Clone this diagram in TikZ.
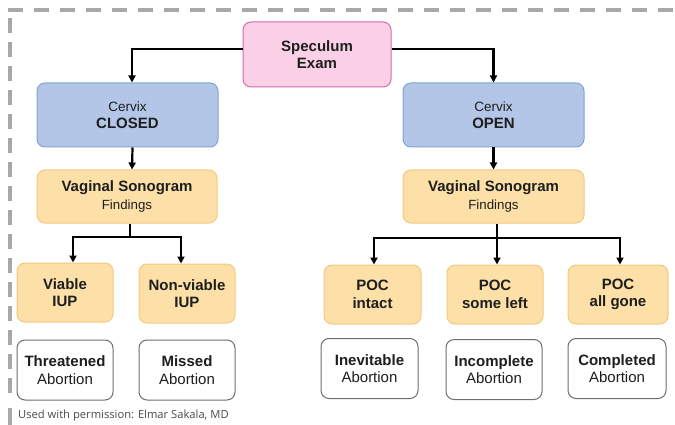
\documentclass[tikz,border=0pt]{standalone}
\usepackage{fontspec}
\setmainfont{Liberation Sans}
\newfontfamily\notefont{Open Sans}
\usetikzlibrary{arrows.meta}
\definecolor{pinkfill}{HTML}{F9D0E6}
\definecolor{pinkline}{HTML}{D66AAC}
\definecolor{bluefill}{HTML}{B4C6E8}
\definecolor{blueline}{HTML}{7EA5D1}
\definecolor{orfill}{HTML}{FCE0A8}
\definecolor{orline}{HTML}{F3C97F}
\definecolor{greyline}{HTML}{6E6E6E}
\definecolor{notegrey}{HTML}{4A4A4A}
\definecolor{dashgrey}{HTML}{A8A8A8}
\definecolor{txt}{HTML}{1E1E1E}
\begin{document}
\begin{tikzpicture}[x=1pt,y=-1pt,
  box/.style={rounded corners=8pt, line width=1pt, align=center, inner sep=0pt,
    text=txt, font=\fontsize{15}{17.5}\selectfont},
  pinkbox/.style={box, draw=pinkline, fill=pinkfill},
  bluebox/.style={box, draw=blueline, fill=bluefill},
  orbox/.style={box, draw=orline, fill=orfill},
  whitebox/.style={box, draw=greyline, fill=white},
  conn/.style={line width=2.2pt, black},
  arr/.style={conn, -{Triangle[length=7pt,width=7pt]}}
]
\useasboundingbox (0,0) rectangle (675,425);
% dashed frame
\draw[dashgrey, line width=3.2pt, dash pattern=on 15pt off 11pt] (8,10) -- (675,10);
\draw[dashgrey, line width=3.2pt, dash pattern=on 15pt off 9pt] (10,18) -- (10,400);
\draw[dashgrey, line width=3.2pt] (10,408) -- (10,425);

% nodes
\node[pinkbox, minimum width=148pt, minimum height=65pt] (spec) at (317,54.5) {\textbf{Speculum}\\\textbf{Exam}};
\node[bluebox, minimum width=181pt, minimum height=64pt] (closed) at (127.5,115) {{\fontsize{13.5}{16}\selectfont Cervix}\\\textbf{CLOSED}};
\node[bluebox, minimum width=181pt, minimum height=64pt] (open) at (493.5,115) {{\fontsize{13.5}{16}\selectfont Cervix}\\\textbf{OPEN}};
\node[orbox, minimum width=180pt, minimum height=53pt] (vagL) at (127,196.5) {\textbf{Vaginal Sonogram}\\{\fontsize{13.3}{15}\selectfont Findings}};
\node[orbox, minimum width=181pt, minimum height=53pt] (vagR) at (493.5,196.5) {\textbf{Vaginal Sonogram}\\{\fontsize{13.3}{15}\selectfont Findings}};

\node[orbox, minimum width=96pt, minimum height=59pt] (viable) at (65,292.5) {\textbf{Viable}\\\textbf{IUP}};
\node[orbox, minimum width=96pt, minimum height=59pt] (nonviable) at (187,293.5) {\textbf{Non-viable}\\\textbf{IUP}};
\node[orbox, minimum width=97pt, minimum height=59pt] (pocI) at (372.5,294.5) {\textbf{POC}\\\textbf{intact}};
\node[orbox, minimum width=96pt, minimum height=59pt] (pocS) at (495,294.5) {\textbf{POC}\\\textbf{some left}};
\node[orbox, minimum width=100pt, minimum height=59pt] (pocA) at (618,294.5) {\textbf{POC}\\\textbf{all gone}};

\node[whitebox, minimum width=96pt, minimum height=60pt] (threat) at (65,370) {\textbf{Threatened}\\Abortion};
\node[whitebox, minimum width=96pt, minimum height=60pt] (missed) at (187,370) {\textbf{Missed}\\Abortion};
\node[whitebox, minimum width=97pt, minimum height=60pt] (inev) at (369.5,368.5) {\textbf{Inevitable}\\Abortion};
\node[whitebox, minimum width=96pt, minimum height=60pt] (incomp) at (494,369.5) {\textbf{Incomplete}\\Abortion};
\node[whitebox, minimum width=98pt, minimum height=60pt] (compl) at (617,368.5) {\textbf{Completed}\\Abortion};

\node[anchor=base west, inner sep=0pt, text=notegrey, font=\notefont\fontsize{11.2}{13}\selectfont] (note) at (18,418.5) {Used with permission: Elmar Sakala, MD};

% connectors
\draw[arr] ([yshift=5.5pt]spec.west) -| ([xshift=4.5pt]closed.north);
\draw[arr] ([yshift=5.5pt]spec.east) -| (open.north);
\draw[arr] ([xshift=5pt]closed.south) -- ([xshift=5pt]vagL.north);
\draw[arr] (open.south) -- (vagR.north);

\coordinate (jL) at (130,237);
\draw[conn] ([xshift=3pt]vagL.south) -- (jL);
\draw[arr] (jL) -| ([xshift=8pt]viable.north);
\draw[arr] (jL) -| ([xshift=-6pt]nonviable.north);

\coordinate (jR) at (497,238);
\draw[conn] ([xshift=3.5pt]vagR.south) -- (jR);
\draw[arr] (jR) -| ([xshift=1.5pt]pocI.north);
\draw[arr] (jR) -- ([xshift=2pt]pocS.north);
\draw[arr] (jR) -| ([xshift=2pt]pocA.north);
\end{tikzpicture}
\end{document}
